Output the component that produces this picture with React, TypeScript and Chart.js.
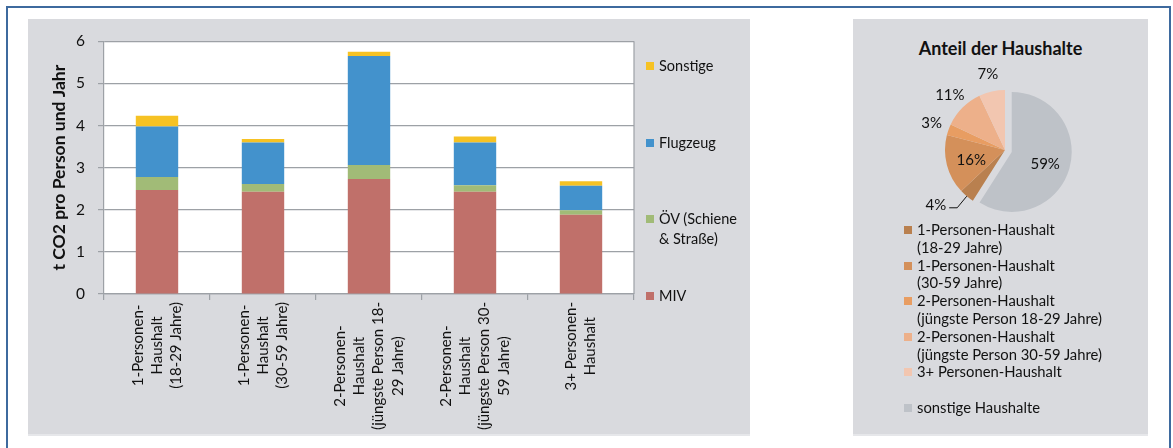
import React, { useEffect, useRef } from "react";
import { Chart, registerables } from "chart.js";

Chart.register(...registerables);

const FONT = "Lato, 'Open Sans', sans-serif";
Chart.defaults.font.family = FONT;
Chart.defaults.color = "#111";

// ---- CO2 per person and year, by household type ----
const categories: string[][] = [
  ["1-Personen-", "Haushalt", "(18-29 Jahre)"],
  ["1-Personen-", "Haushalt", "(30-59 Jahre)"],
  ["2-Personen-", "Haushalt", "(jüngste Person 18-", "29 Jahre)"],
  ["2-Personen-", "Haushalt", "(jüngste Person 30-", "59 Jahre)"],
  ["3+ Personen-", "Haushalt"],
];
const miv = [2.47, 2.43, 2.73, 2.43, 1.88];
const oev = [0.31, 0.18, 0.33, 0.15, 0.11];
const flugzeug = [1.2, 0.99, 2.59, 1.02, 0.58];
const sonstige = [0.25, 0.08, 0.1, 0.14, 0.11];
const yTicks = [0, 1, 2, 3, 4, 5, 6];

const seriesNames: string[][] = [["MIV"], ["ÖV (Schiene", "& Straße)"], ["Flugzeug"], ["Sonstige"]];
const seriesColors = ["#c0706a", "#a1bb77", "#4392cc", "#f6c224"];

// ---- share of households ----
const householdNames: string[][] = [
  ["1-Personen-Haushalt", "(18-29 Jahre)"],
  ["1-Personen-Haushalt", "(30-59 Jahre)"],
  ["2-Personen-Haushalt", "(jüngste Person 18-29 Jahre)"],
  ["2-Personen-Haushalt", "(jüngste Person 30-59 Jahre)"],
  ["3+ Personen-Haushalt"],
  ["sonstige Haushalte"],
];
const householdShares = [4, 16, 3, 11, 7, 59];
const householdColors = ["#b9804f", "#d4905a", "#e89d62", "#edb08a", "#f2c6b0", "#bec2c8"];
const householdExplode = [0, 0, 0, 0, 0, 7];
const householdLabelPlacement = ["leader", "inside", "outside", "outside", "outside", "inside"];

const GRID = "#9da1a6";
const PANEL = "#d9dade";

// white plot area with a border on its right edge
const plotAreaPlugin = {
  id: "plotArea",
  beforeDraw(chart: any) {
    const { ctx, chartArea: a } = chart;
    ctx.save();
    ctx.fillStyle = "#fff";
    ctx.fillRect(a.left, a.top, a.right - a.left, a.bottom - a.top);
    ctx.restore();
  },
  afterDraw(chart: any) {
    const { ctx, chartArea: a } = chart;
    ctx.save();
    ctx.strokeStyle = GRID;
    ctx.lineWidth = 1.2;
    ctx.beginPath();
    ctx.moveTo(a.right, a.top);
    ctx.lineTo(a.right, a.bottom);
    ctx.stroke();
    ctx.restore();
  },
};

// vertical, centred multi-line category labels below the x axis
const categoryLabelPlugin = {
  id: "categoryLabels",
  afterDraw(chart: any) {
    const { ctx } = chart;
    const xs = chart.scales.x;
    const lineH = 19.3;
    ctx.save();
    ctx.font = `15px ${FONT}`;
    ctx.fillStyle = "#111";
    ctx.textAlign = "center";
    ctx.textBaseline = "middle";
    categories.forEach((lines, i) => {
      const px = xs.getPixelForValue(i);
      const top = xs.top + 8;
      const w = Math.max(...lines.map((l) => ctx.measureText(l).width));
      ctx.save();
      ctx.translate(px, top);
      ctx.rotate(-Math.PI / 2);
      lines.forEach((l, k) => {
        ctx.fillText(l, -w / 2, (k - (lines.length - 1) / 2) * lineH);
      });
      ctx.restore();
    });
    ctx.restore();
  },
};

// pulls selected slices out of the pie along their bisector
const explodePlugin = {
  id: "explode",
  afterDatasetsUpdate(chart: any) {
    const meta = chart.getDatasetMeta(0);
    meta.data.forEach((arc: any, i: number) => {
      const d = householdExplode[i];
      if (!d) return;
      const mid = (arc.startAngle + arc.endAngle) / 2;
      arc.x += Math.cos(mid) * d;
      arc.y += Math.sin(mid) * d;
    });
  },
};

// percentage labels on / around the pie slices
const pieLabelPlugin = {
  id: "pieLabels",
  afterDatasetsDraw(chart: any) {
    const { ctx } = chart;
    const meta = chart.getDatasetMeta(0);
    ctx.save();
    ctx.font = `15px ${FONT}`;
    ctx.fillStyle = "#111";
    ctx.strokeStyle = "#111";
    ctx.lineWidth = 1;
    ctx.textBaseline = "middle";
    meta.data.forEach((arc: any, i: number) => {
      const { x, y, startAngle, endAngle, outerRadius } = arc.getProps(
        ["x", "y", "startAngle", "endAngle", "outerRadius"],
        true
      );
      const mid = (startAngle + endAngle) / 2;
      const c = Math.cos(mid);
      const s = Math.sin(mid);
      const text = `${householdShares[i]}%`;
      const place = householdLabelPlacement[i];
      if (place === "inside") {
        const d = outerRadius * 0.58;
        ctx.textAlign = "center";
        ctx.fillText(text, x + c * d, y + s * d + 2);
      } else if (place === "outside") {
        const d = outerRadius + 18;
        ctx.textAlign = "center";
        ctx.fillText(text, x + c * d, y + s * d);
      } else {
        const p0x = x + c * outerRadius;
        const p0y = y + s * outerRadius;
        const p1x = x + c * (outerRadius + 15);
        const p1y = y + s * (outerRadius + 15);
        const p2x = p1x - 8;
        ctx.beginPath();
        ctx.moveTo(p0x, p0y);
        ctx.lineTo(p1x, p1y);
        ctx.lineTo(p2x, p1y);
        ctx.stroke();
        ctx.textAlign = "right";
        ctx.fillText(text, p2x - 3, p1y - 3);
      }
    });
    ctx.restore();
  },
};

function BarChart() {
  const ref = useRef<HTMLCanvasElement>(null);
  useEffect(() => {
    const values = [miv, oev, flugzeug, sonstige];
    const chart = new Chart(ref.current!, {
      type: "bar",
      data: {
        labels: categories.map((c) => c.join(" ")),
        datasets: values.map((v, i) => ({
          label: seriesNames[i].join(" "),
          data: v,
          backgroundColor: seriesColors[i],
          borderWidth: 0,
        })),
      },
      options: {
        responsive: false,
        animation: false,
        layout: { padding: { top: 20, right: 116, left: 0, bottom: 0 } },
        datasets: { bar: { barPercentage: 0.4, categoryPercentage: 1 } },
        plugins: { legend: { display: false }, tooltip: { enabled: false } },
        scales: {
          x: {
            stacked: true,
            grid: { offset: true, drawOnChartArea: false, drawTicks: true, tickLength: 6, color: GRID, lineWidth: 1.2 },
            border: { display: true, color: GRID, width: 1.2 },
            ticks: { display: false },
            afterFit: (s: any) => {
              s.height = 141;
            },
          },
          y: {
            stacked: true,
            min: 0,
            max: 6,
            afterBuildTicks: (s: any) => {
              s.ticks = yTicks.map((v) => ({ value: v }));
            },
            grid: { color: GRID, lineWidth: 1.2, tickLength: 6, drawTicks: true },
            border: { display: true, color: GRID, width: 1.2 },
            ticks: { font: { size: 15.5 }, color: "#111", padding: 13 },
            title: {
              display: true,
              text: "t CO2 pro Person und Jahr",
              font: { size: 17.5, weight: "bold" },
              color: "#111",
              padding: { top: 21, bottom: 0 },
            },
            afterFit: (s: any) => {
              s.width = 76;
            },
          },
        },
      },
      plugins: [plotAreaPlugin, categoryLabelPlugin],
    } as any);
    return () => chart.destroy();
  }, []);
  return <canvas ref={ref} width={722} height={416} style={{ position: "absolute", left: 28, top: 19, width: 722, height: 416 }} />;
}

function PieChart() {
  const ref = useRef<HTMLCanvasElement>(null);
  useEffect(() => {
    const total = householdShares.reduce((a, b) => a + b, 0);
    const chart = new Chart(ref.current!, {
      type: "pie",
      data: {
        labels: householdNames.map((n) => n.join(" ")),
        datasets: [
          {
            data: householdShares,
            backgroundColor: householdColors,
            borderWidth: 0,
          },
        ],
      },
      options: {
        responsive: false,
        animation: false,
        radius: 60,
        rotation: (360 * householdShares[householdShares.length - 1]) / total,
        layout: { padding: 0 },
        plugins: { legend: { display: false }, tooltip: { enabled: false } },
      },
      plugins: [explodePlugin, pieLabelPlugin],
    } as any);
    return () => chart.destroy();
  }, []);
  return <canvas ref={ref} width={240} height={200} style={{ position: "absolute", left: 885, top: 50, width: 240, height: 200 }} />;
}

const swatch = (color: string, left: number, top: number) => (
  <div style={{ position: "absolute", left, top, width: 8, height: 8, background: color }} />
);

export default function App() {
  const barLegendOrder = [3, 2, 1, 0];
  return (
    <div
      style={{
        position: "absolute",
        left: 0,
        top: 0,
        width: 1173,
        height: 448,
        background: "#fff",
        overflow: "hidden",
        fontFamily: FONT,
        color: "#111",
      }}
    >
      <div style={{ position: "absolute", left: 6, top: 6, width: 1161, height: 460, border: "2px solid #3e6a9e" }} />

      {/* left panel: stacked bars */}
      <div style={{ position: "absolute", left: 28, top: 19, width: 722, height: 415, background: PANEL, borderBottom: "2px solid #e6e7ea" }} />
      <BarChart />
      <div style={{ position: "absolute", left: 646, top: 56, width: 100 }}>
        {barLegendOrder.map((si, k) => (
          <div key={si} style={{ position: "absolute", left: 0, top: k * 76.7, width: 100 }}>
            {swatch(seriesColors[si], 0, 6)}
            <div style={{ position: "absolute", left: 13, top: 0, fontSize: 14.5, lineHeight: "20px", whiteSpace: "nowrap" }}>
              {seriesNames[si].map((l, j) => (
                <div key={j}>{l}</div>
              ))}
            </div>
          </div>
        ))}
      </div>

      {/* right panel: pie */}
      <div style={{ position: "absolute", left: 853, top: 19, width: 295, height: 415, background: PANEL, borderBottom: "2px solid #e6e7ea" }} />
      <div
        style={{
          position: "absolute",
          left: 853,
          top: 37,
          width: 295,
          textAlign: "center",
          fontSize: 18,
          fontWeight: "bold",
          lineHeight: "22px",
        }}
      >
        Anteil der Haushalte
      </div>
      <PieChart />
      <div style={{ position: "absolute", left: 904, top: 221 }}>
        {householdNames.map((lines, i) => (
          <div key={i} style={{ position: "absolute", left: 0, top: i * 35.6, width: 240 }}>
            {swatch(householdColors[i], 0, 5)}
            <div style={{ position: "absolute", left: 13, top: 0, fontSize: 14.8, lineHeight: "17.8px", whiteSpace: "nowrap" }}>
              {lines.map((l, j) => (
                <div key={j}>{l}</div>
              ))}
            </div>
          </div>
        ))}
      </div>
    </div>
  );
}
